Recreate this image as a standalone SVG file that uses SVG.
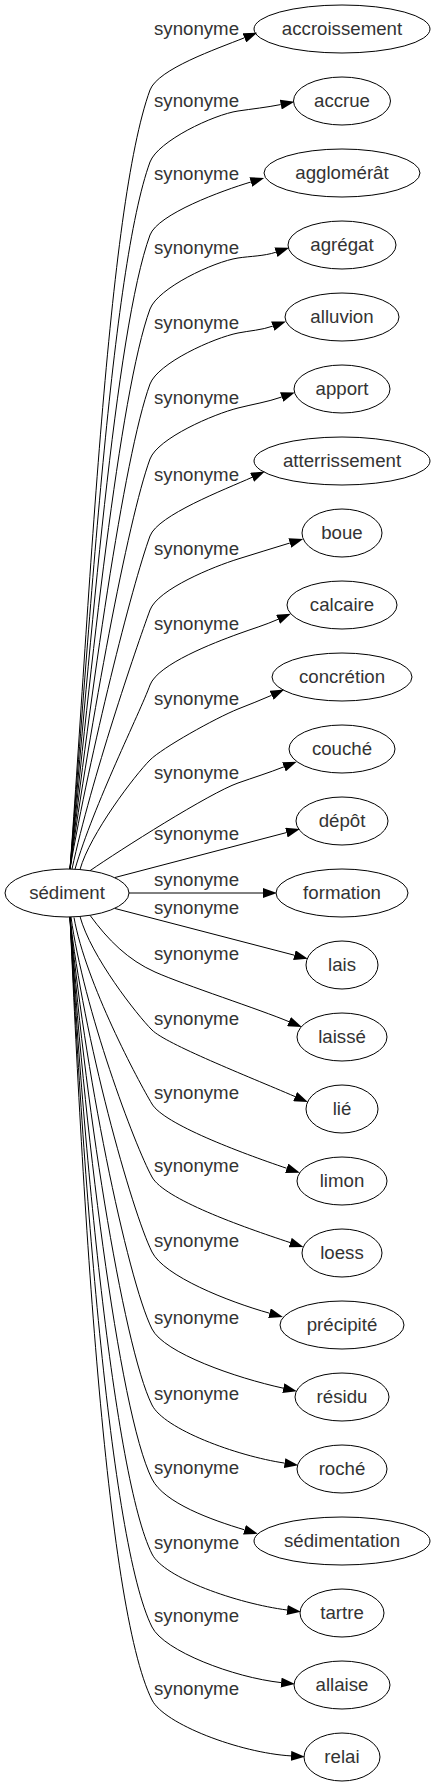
<svg xmlns="http://www.w3.org/2000/svg" width="435" height="1787" viewBox="0 0 435 1787">
<defs>
<marker id="arr" markerUnits="userSpaceOnUse" markerWidth="14" markerHeight="10" viewBox="0 0 13 9.34" refX="0" refY="4.67" orient="auto">
<path d="M0,0 L13,4.67 L0,9.34 z" fill="#000" stroke="none"/>
</marker>
</defs>
<style>
.n ellipse{fill:none;stroke:#000;stroke-width:1}
.n text{font-family:"Liberation Sans",Arial,sans-serif;font-size:18.67px;fill:#333;text-anchor:middle}
#connectors path{fill:none;stroke:#000;stroke-width:1;marker-end:url(#arr)}
#connectors text{font-family:"Liberation Sans",Arial,sans-serif;font-size:18.67px;fill:#333;text-anchor:middle}
</style>
<rect width="435" height="1787" fill="#fff"/>
<g id="connectors">
<path d="M70,869 C90,596.3 107.5,206.9 150,90 C158,69 216.6,48.9 244.4,37.8"/>
<text x="196.5" y="35">synonyme</text>
<path d="M70,869 C90,621.6 111.4,268 150,162 C158,141 213.3,114.7 238,111 C252.2,108.9 266.6,107.4 280.75,104.55"/>
<text x="196.5" y="107">synonyme</text>
<path d="M70,869 C90,647.1 115.4,330.1 150,235 C158,214 222.1,190.6 250.85,182"/>
<text x="196.5" y="180">synonyme</text>
<path d="M70,869 C90,673 119.4,393 150,309 C158,288 213.3,261.8 238,258 C250.6,256.1 263.8,256.2 275.95,252.2"/>
<text x="196.5" y="254">synonyme</text>
<path d="M70,869 C90,699.3 123.5,456.8 150,384 C158,363 213.5,337.9 238,333 C249.6,330.7 261.7,330.1 272.8,326.1"/>
<text x="196.5" y="329">synonyme</text>
<path d="M70,869 C90,725.5 127.6,520.5 150,459 C158,438 213.8,414.1 238,408 C252.5,404.3 267.5,402 281.7,397"/>
<text x="196.5" y="404">synonyme</text>
<path d="M70,869 C90,752.5 131.8,586 150,536 C158,515 224.7,489.6 252.1,477.3"/>
<text x="196.5" y="481">synonyme</text>
<path d="M72,869 C91.5,778.4 135.8,648.9 150,610 C158,589 214.1,566.4 238,559 C255.3,553.7 272.5,548.2 289.85,543"/>
<text x="196.5" y="555">synonyme</text>
<path d="M75,869.2 C93.8,804.6 140,712.6 150,685 C158,664 214.5,642.6 238,634 C251.3,629.1 265.1,625.1 278.1,619.3"/>
<text x="196.5" y="630">synonyme</text>
<path d="M80,869.5 C90,834 135,775 150,760 C162,748 214.9,718.4 238,709 C249.2,704.4 260.6,700.3 271.6,695.3"/>
<text x="196.5" y="705">synonyme</text>
<path d="M90,870.7 C120,850 209.7,793 238,783 C253.3,777.6 268.9,772.8 283.9,766.8"/>
<text x="196.5" y="779">synonyme</text>
<path d="M115,877.5 L286.4,832.6"/>
<text x="196.5" y="840">synonyme</text>
<path d="M129,893 L263,893"/>
<text x="196.5" y="886">synonyme</text>
<path d="M115,908.5 L294.4,955.2"/>
<text x="196.5" y="914">synonyme</text>
<path d="M90,915.3 C108,940 128,960 155,972 C185,985.3 260,1009.5 289,1021.7"/>
<text x="196.5" y="960">synonyme</text>
<path d="M80,916.5 C90.8,956.2 137,1015 152,1030 C166,1044 246.5,1075.7 295.1,1096.6"/>
<text x="196.5" y="1025">synonyme</text>
<path d="M74,917.5 C85.7,983 138.6,1081.6 152,1104 C164,1124 239.5,1152.3 286.7,1168.3"/>
<text x="196.5" y="1099">synonyme</text>
<path d="M71,917 C83.2,1008 134.8,1145.8 152,1177 C164.1,1199 241.6,1226.6 290.2,1242.6"/>
<text x="196.5" y="1172">synonyme</text>
<path d="M70,917 C82.3,1034.3 131.9,1211.8 152,1252 C164,1276 227.6,1301.5 269.5,1313.2"/>
<text x="196.5" y="1247">synonyme</text>
<path d="M70,917 C82.3,1061.2 127.3,1279.6 152,1329 C164,1353 235.8,1377.8 283.3,1388.2"/>
<text x="196.5" y="1324">synonyme</text>
<path d="M70,917 C82.3,1087.8 122.7,1346.4 152,1405 C164,1429 236,1455.8 284.6,1463.1"/>
<text x="196.5" y="1400">synonyme</text>
<path d="M70,917 C82.3,1113.7 118.3,1411.6 152,1479 C164,1503 211.7,1520 244.5,1529.8"/>
<text x="196.5" y="1474">synonyme</text>
<path d="M70,917 C82.3,1140 113.8,1477.6 152,1554 C164,1578 237.5,1603.6 287.1,1610"/>
<text x="196.5" y="1549">synonyme</text>
<path d="M70,917 C82.3,1165.5 109.4,1541.8 152,1627 C164,1651 233.6,1677.4 281.1,1682.6"/>
<text x="196.5" y="1622">synonyme</text>
<path d="M70,917 C82.3,1191 105,1606 152,1700 C164,1724 239.7,1752.8 291,1755.9"/>
<text x="196.5" y="1695">synonyme</text>
</g>
<g id="node-sediment" class="n"><ellipse cx="67" cy="893" rx="62" ry="24"/><text x="67" y="899">sédiment</text></g>
<g id="node-accroissement" class="n"><ellipse cx="342" cy="29" rx="88" ry="24"/><text x="342" y="35">accroissement</text></g>
<g id="node-accrue" class="n"><ellipse cx="342" cy="101" rx="48.5" ry="24"/><text x="342" y="107">accrue</text></g>
<g id="node-agglomerat" class="n"><ellipse cx="342" cy="173" rx="78" ry="24"/><text x="342" y="179">agglomérât</text></g>
<g id="node-agregat" class="n"><ellipse cx="342" cy="245" rx="54" ry="24"/><text x="342" y="251">agrégat</text></g>
<g id="node-alluvion" class="n"><ellipse cx="342" cy="317" rx="57" ry="24"/><text x="342" y="323">alluvion</text></g>
<g id="node-apport" class="n"><ellipse cx="342" cy="389" rx="48" ry="24"/><text x="342" y="395">apport</text></g>
<g id="node-atterrissement" class="n"><ellipse cx="342" cy="461" rx="88" ry="24"/><text x="342" y="467">atterrissement</text></g>
<g id="node-boue" class="n"><ellipse cx="342" cy="533" rx="40" ry="24"/><text x="342" y="539">boue</text></g>
<g id="node-calcaire" class="n"><ellipse cx="342" cy="605" rx="55" ry="24"/><text x="342" y="611">calcaire</text></g>
<g id="node-concretion" class="n"><ellipse cx="342" cy="677" rx="70" ry="24"/><text x="342" y="683">concrétion</text></g>
<g id="node-couche" class="n"><ellipse cx="342" cy="749" rx="53" ry="24"/><text x="342" y="755">couché</text></g>
<g id="node-depot" class="n"><ellipse cx="342" cy="821" rx="46" ry="24"/><text x="342" y="827">dépôt</text></g>
<g id="node-formation" class="n"><ellipse cx="342" cy="893" rx="66" ry="24"/><text x="342" y="899">formation</text></g>
<g id="node-lais" class="n"><ellipse cx="342" cy="965" rx="36" ry="24"/><text x="342" y="971">lais</text></g>
<g id="node-laisse" class="n"><ellipse cx="342" cy="1037" rx="45" ry="24"/><text x="342" y="1043">laissé</text></g>
<g id="node-lie" class="n"><ellipse cx="342" cy="1109" rx="36" ry="24"/><text x="342" y="1115">lié</text></g>
<g id="node-limon" class="n"><ellipse cx="342" cy="1181" rx="45" ry="24"/><text x="342" y="1187">limon</text></g>
<g id="node-loess" class="n"><ellipse cx="342" cy="1253" rx="40" ry="24"/><text x="342" y="1259">loess</text></g>
<g id="node-precipite" class="n"><ellipse cx="342" cy="1325" rx="62" ry="24"/><text x="342" y="1331">précipité</text></g>
<g id="node-residu" class="n"><ellipse cx="342" cy="1397" rx="47" ry="24"/><text x="342" y="1403">résidu</text></g>
<g id="node-roche" class="n"><ellipse cx="342" cy="1469" rx="45" ry="24"/><text x="342" y="1475">roché</text></g>
<g id="node-sedimentation" class="n"><ellipse cx="342" cy="1541" rx="88" ry="24"/><text x="342" y="1547">sédimentation</text></g>
<g id="node-tartre" class="n"><ellipse cx="342" cy="1613" rx="42" ry="24"/><text x="342" y="1619">tartre</text></g>
<g id="node-allaise" class="n"><ellipse cx="342" cy="1685" rx="48" ry="24"/><text x="342" y="1691">allaise</text></g>
<g id="node-relai" class="n"><ellipse cx="342" cy="1757" rx="38" ry="24"/><text x="342" y="1763">relai</text></g>
</svg>
